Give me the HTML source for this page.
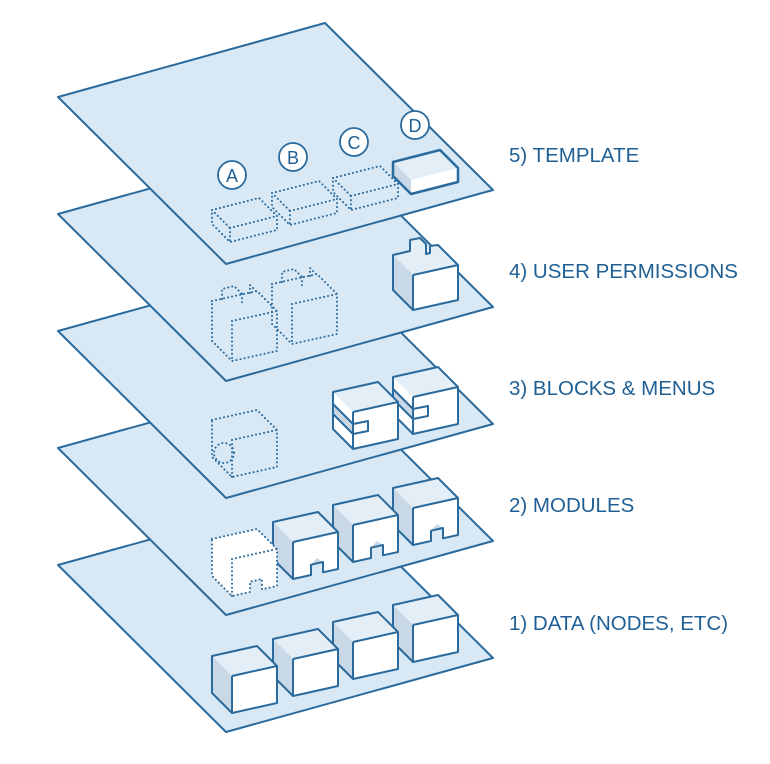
<!DOCTYPE html>
<html><head><meta charset="utf-8"><style>
html,body{margin:0;padding:0;background:#fff;}
svg{display:block}
text{font-family:"Liberation Sans",sans-serif;font-size:20.5px;fill:#1f5f94;}
</style></head><body>
<svg width="770" height="764" viewBox="0 0 770 764" xmlns="http://www.w3.org/2000/svg">
<defs>
<g id="cube">
  <path d="M0,0 L45,-10 L65,10 L20,20 Z" fill="#e4eef7"/>
  <path d="M0,0 L20,20 L20,57 L0,37 Z" fill="#c8d8e6"/>
  <path d="M20,20 L65,10 L65,47 L20,57 Z" fill="#fff"/>
  <path d="M0,0 L45,-10 L65,10 L65,47 L20,57 L0,37 Z M20,20 L65,10 M20,20 L20,57" fill="none" stroke="#2a6a9c" stroke-width="2" stroke-linejoin="round"/>
</g>
<g id="mod">
  <path d="M0,0 L45,-10 L65,10 L20,20 Z" fill="#e4eef7"/>
  <path d="M0,0 L20,20 L20,57 L0,37 Z" fill="#c8d8e6"/>
  <path d="M20,20 L65,10 L65,47 L50,50.3 L50,40 L38,42.7 L38,53 L20,57 Z" fill="#fff"/>
  <path d="M38,42.7 L50,40 L44,36 Z" fill="#c8d8e6"/>
  <path d="M0,0 L45,-10 L65,10 L65,47 L50,50.3 L50,40 L38,42.7 L38,53 L20,57 L0,37 Z M20,20 L65,10 M20,20 L20,57" fill="none" stroke="#2a6a9c" stroke-width="2" stroke-linejoin="round"/>
</g>
<g id="modd">
  <path d="M0,0 L45,-10 L65,10 L65,47 L50,50.3 L50,40 L38,42.7 L38,53 L20,57 L0,37 Z" fill="#fff"/>
  <path d="M0,0 L45,-10 L65,10 L65,47 L50,50.3 L50,40 L38,42.7 L38,53 L20,57 L0,37 Z M20,20 L65,10 M20,20 L20,57" fill="none" stroke="#2a6a9c" stroke-width="2" stroke-dasharray="0.1 4" stroke-linecap="round"/>
</g>
<g id="blk">
  <path d="M0,0 L45,-10 L65,10 L20,20 Z" fill="#e4eef7"/>
  <path d="M0,0 L20,20 L20,57 L0,37 Z" fill="#fff"/>
  <path d="M0,12 L20,32 L20,42 L0,22 Z" fill="#c8d8e6"/>
  <path d="M20,20 L65,10 L65,47 L20,57 Z" fill="#fff"/>
  <path d="M0,0 L45,-10 L65,10 L65,47 L20,57 L0,37 Z M20,20 L65,10 M20,20 L20,57 M0,12 L20,32 M0,22 L20,42 M20,32 L35,29 L35,39 L20,42" fill="none" stroke="#2a6a9c" stroke-width="2" stroke-linejoin="round"/>
</g>
<g id="flat">
  <path d="M0,0 L47,-12 L65,6 L18,18 Z" fill="#e4eef7"/>
  <path d="M0,0 L18,18 L18,32 L0,14 Z" fill="#c8d8e6"/>
  <path d="M18,18 L65,6 L65,20 L18,32 Z" fill="#fff"/>
  <path d="M0,0 L47,-12 L65,6 L65,20 L18,32 L0,14 Z" fill="none" stroke="#2a6a9c" stroke-width="2.5" stroke-linejoin="round"/>
</g>
<g id="flatd">
  <path d="M0,0 L47,-12 L65,6 L65,20 L18,32 L0,14 Z M18,18 L65,6 M18,18 L18,32 M0,0 L18,18" fill="none" stroke="#2a6a9c" stroke-width="2" stroke-dasharray="0.1 4" stroke-linecap="round"/>
</g>
<g id="permd">
  <path d="M0,0 L45,-10 L65,10 L65,50 L20,60 L0,40 Z M20,20 L65,10 M20,20 L20,60 M10,-2 L10,-12 L22,-15 L30,-7 M30,-7 L30,2 M38,-8 L38,-16 L46,-8" fill="none" stroke="#2a6a9c" stroke-width="2" stroke-dasharray="0.1 4" stroke-linecap="round"/>
</g>
<g id="blkd">
  <path d="M0,0 L45,-10 L65,10 L65,47 L20,57 L0,37 Z M20,20 L65,10 M20,20 L20,57" fill="none" stroke="#2a6a9c" stroke-width="2" stroke-dasharray="0.1 4" stroke-linecap="round"/>
  <circle cx="12" cy="33" r="10" fill="none" stroke="#2a6a9c" stroke-width="2" stroke-dasharray="0.1 4" stroke-linecap="round"/>
</g>
</defs>

<polygon points="58,565 325,491 493,658 226,732" fill="#d9e8f5" stroke="#2a6a9c" stroke-width="2" stroke-linejoin="round"/>
<use href="#cube" x="393" y="605"/>
<use href="#cube" x="333" y="622"/>
<use href="#cube" x="273" y="639"/>
<use href="#cube" x="212" y="656"/>

<polygon points="58,448 325,374 493,541 226,615" fill="#d9e8f5" stroke="#2a6a9c" stroke-width="2" stroke-linejoin="round"/>
<use href="#mod" x="393" y="488"/>
<use href="#mod" x="333" y="505"/>
<use href="#mod" x="273" y="522"/>
<use href="#modd" x="212" y="539"/>

<polygon points="58,331 325,257 493,424 226,498" fill="#d9e8f5" stroke="#2a6a9c" stroke-width="2" stroke-linejoin="round"/>
<use href="#blkd" x="212" y="420"/>
<use href="#blk" x="393" y="377"/>
<use href="#blk" x="333" y="392"/>

<polygon points="58,214 325,140 493,307 226,381" fill="#d9e8f5" stroke="#2a6a9c" stroke-width="2" stroke-linejoin="round"/>
<use href="#permd" x="212" y="301"/>
<use href="#permd" x="272" y="284"/>
<g transform="translate(393,255)">
  <path d="M0,0 L45,-10 L65,10 L20,20 Z" fill="#e4eef7"/>
  <path d="M0,0 L20,20 L20,55 L0,35 Z" fill="#c8d8e6"/>
  <path d="M20,20 L65,10 L65,45 L20,55 Z" fill="#fff"/>
  <path d="M17,-4 L17,-15 L27,-17 L33,-11 L33,-1 Z" fill="#e4eef7"/>
  <path d="M0,0 L17,-4 L17,-15 L27,-17 L33,-11 L33,-1 L37,-2 L37,-9 L45,-10 L65,10 L65,45 L20,55 L0,35 Z M20,20 L65,10 M20,20 L20,55" fill="none" stroke="#2a6a9c" stroke-width="2" stroke-linejoin="round"/>
</g>

<polygon points="58,97 325,23 493,190 226,264" fill="#d9e8f5" stroke="#2a6a9c" stroke-width="2" stroke-linejoin="round"/>
<use href="#flatd" x="212" y="210"/>
<use href="#flatd" x="272" y="193"/>
<use href="#flatd" x="333" y="178"/>
<use href="#flat" x="393" y="162"/>
<g fill="#fff" stroke="#2a6a9c" stroke-width="1.8">
<circle cx="232" cy="175" r="14"/><circle cx="293" cy="157" r="14"/>
<circle cx="354" cy="142" r="14"/><circle cx="415" cy="125" r="14"/>
</g>
<g style="font-size:18px" text-anchor="middle">
<text x="232" y="182" style="font-size:18px">A</text><text x="293" y="164" style="font-size:18px">B</text>
<text x="354" y="149" style="font-size:18px">C</text><text x="415" y="132" style="font-size:18px">D</text>
</g>

<text x="509" y="162">5) TEMPLATE</text>
<text x="509" y="278">4) USER PERMISSIONS</text>
<text x="509" y="395">3) BLOCKS &amp; MENUS</text>
<text x="509" y="512">2) MODULES</text>
<text x="509" y="630">1) DATA (NODES, ETC)</text>
</svg>
</body></html>
